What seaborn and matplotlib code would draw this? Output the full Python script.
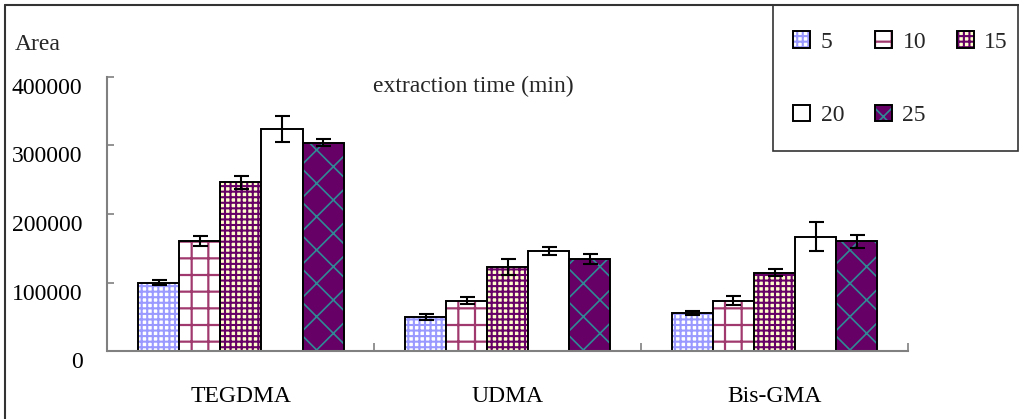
import matplotlib
matplotlib.use("Agg")
import matplotlib.pyplot as plt
import matplotlib.colors as mcolors
from matplotlib.lines import Line2D
from matplotlib.patches import Rectangle
from matplotlib.transforms import ScaledTranslation
import seaborn as sns
import pandas as pd

# ---- data -------------------------------------------------------------
compounds = ["TEGDMA", "UDMA", "Bis-GMA"]
times = ["5", "10", "15", "20", "25"]

area_tegdma = [100000, 161000, 246000, 324000, 304000]
area_udma = [50000, 73500, 122500, 146000, 134000]
area_bisgma = [55500, 73500, 114500, 167000, 160000]

err_tegdma = [3000, 7000, 10000, 19000, 4800]
err_udma = [4400, 4800, 12000, 6300, 7300]
err_bisgma = [3400, 6300, 4800, 21000, 10000]

y_ticks = [0, 100000, 200000, 300000, 400000]

# ---- styles per extraction time ----------------------------------------
face_colors = {"5": "#FFFFFF", "10": "#FFFFFF", "15": "#FFFFCC",
               "20": "#FFFFFF", "25": "#660066"}
hatch_colors = {"5": "#9999FF", "10": "#A03A6E", "15": "#660066",
                "20": "#000000", "25": "#2F8A96"}
hatches = {"5": "+++", "10": "+", "15": "+++", "20": "", "25": "x"}
hatch_widths = {"5": 1.5, "10": 1.6, "15": 1.5, "20": 1.0, "25": 1.2}

rows = []
for comp, areas, errs in zip(compounds, [area_tegdma, area_udma, area_bisgma],
                             [err_tegdma, err_udma, err_bisgma]):
    for t, a, e in zip(times, areas, errs):
        rows.append({"compound": comp, "time": t, "area": a, "err": e})
df = pd.DataFrame(rows)

sns.set_theme(style="white")
plt.rcParams["font.family"] = ["Liberation Serif", "DejaVu Serif"]
plt.rcParams["hatch.linewidth"] = 1.6

W, H = 1020, 419
fig = plt.figure(figsize=(W / 100, H / 100), dpi=100)
fig.patch.set_facecolor("white")


def fx(px):
    return px / W


def fy(py):
    return 1 - py / H


ax = fig.add_axes([fx(107.5), fy(351), fx(908) - fx(107.5), fy(77) - fy(351)])

sns.barplot(data=df, x="compound", y="area", hue="time", order=compounds,
            hue_order=times, palette=face_colors, saturation=1, width=0.77,
            errorbar=None, legend=False, ax=ax, zorder=2)


def style_bar(p, t):
    p.set_facecolor(face_colors[t])
    p.set_edgecolor("black")
    p.set_linewidth(1.4)
    p.set_hatch(hatches[t])
    if hasattr(p, "set_hatchcolor"):
        p.set_hatchcolor(hatch_colors[t])
    else:
        p._hatch_color = mcolors.to_rgba(hatch_colors[t])
    if hasattr(p, "set_hatch_linewidth"):
        p.set_hatch_linewidth(hatch_widths[t])


for t, cont in zip(times, ax.containers):
    sub = df[df["time"] == t].set_index("compound").loc[compounds]
    xs, ys = [], []
    for p in cont:
        style_bar(p, t)
        xs.append(p.get_x() + p.get_width() / 2)
        ys.append(p.get_height())
    ax.errorbar(xs, ys, yerr=sub["err"].values, fmt="none", ecolor="black",
                elinewidth=1.5, capsize=5.4, capthick=1.5, zorder=3)

# ---- axes ------------------------------------------------------------
ax.set_xlim(-0.5, 2.5)
ax.set_ylim(0, 400000)
ax.set_yticks(y_ticks)
ax.set_yticklabels([str(v) for v in y_ticks])
ax.set_xlabel("")
ax.set_ylabel("")
for s in ["top", "right"]:
    ax.spines[s].set_visible(False)
for s in ["left", "bottom"]:
    ax.spines[s].set_color("#808080")
    ax.spines[s].set_linewidth(1.5)

ax.tick_params(axis="y", direction="in", length=5, width=1.2, color="#808080",
               pad=18, labelsize=17, labelcolor="black", left=True)
ax.tick_params(axis="x", which="major", length=0, pad=25, labelsize=17,
               labelcolor="black")
ax.set_xticks([0.5, 1.5, 2.5], minor=True)
ax.tick_params(axis="x", which="minor", direction="in", length=6, width=1.2,
               color="#808080", bottom=True)

for lab in ax.get_yticklabels():
    lab.set_transform(lab.get_transform() + ScaledTranslation(0, -9 / 100, fig.dpi_scale_trans))

# ---- texts -------------------------------------------------------------
fig.text(fx(15), fy(50), "Area", fontsize=17, ha="left", va="baseline")
fig.text(fx(373), fy(92), "extraction time (min)", fontsize=17, ha="left",
         va="baseline")

# ---- legend (filled row by row: 5 10 15 / 20 25) -------------------------
legend_order = [0, 3, 1, 4, 2]
handles = [ax.containers[i][0] for i in legend_order]
labels = [times[i] for i in legend_order]
leg = fig.legend(handles, labels, ncol=3, loc="upper left",
                 bbox_to_anchor=(fx(793), fy(31)), frameon=False, fontsize=17,
                 handlelength=0.72, handleheight=0.72, handletextpad=0.45,
                 columnspacing=1.3, labelspacing=2.2, borderpad=0,
                 borderaxespad=0)
for h, t in zip(leg.legend_handles, labels):
    style_bar(h, t)

fig.add_artist(Rectangle((fx(773), fy(151)), fx(1018) - fx(773), fy(5) - fy(151),
                         transform=fig.transFigure, fill=False,
                         edgecolor="#333333", linewidth=1.2))

# figure border on the left and top
fig.add_artist(Line2D([fx(5), fx(5)], [0, fy(5)], transform=fig.transFigure,
                      color="#333333", linewidth=1.5))
fig.add_artist(Line2D([fx(5), 1], [fy(5), fy(5)], transform=fig.transFigure,
                      color="#333333", linewidth=1.5))

fig.savefig("out.png", dpi=100, facecolor="white")
